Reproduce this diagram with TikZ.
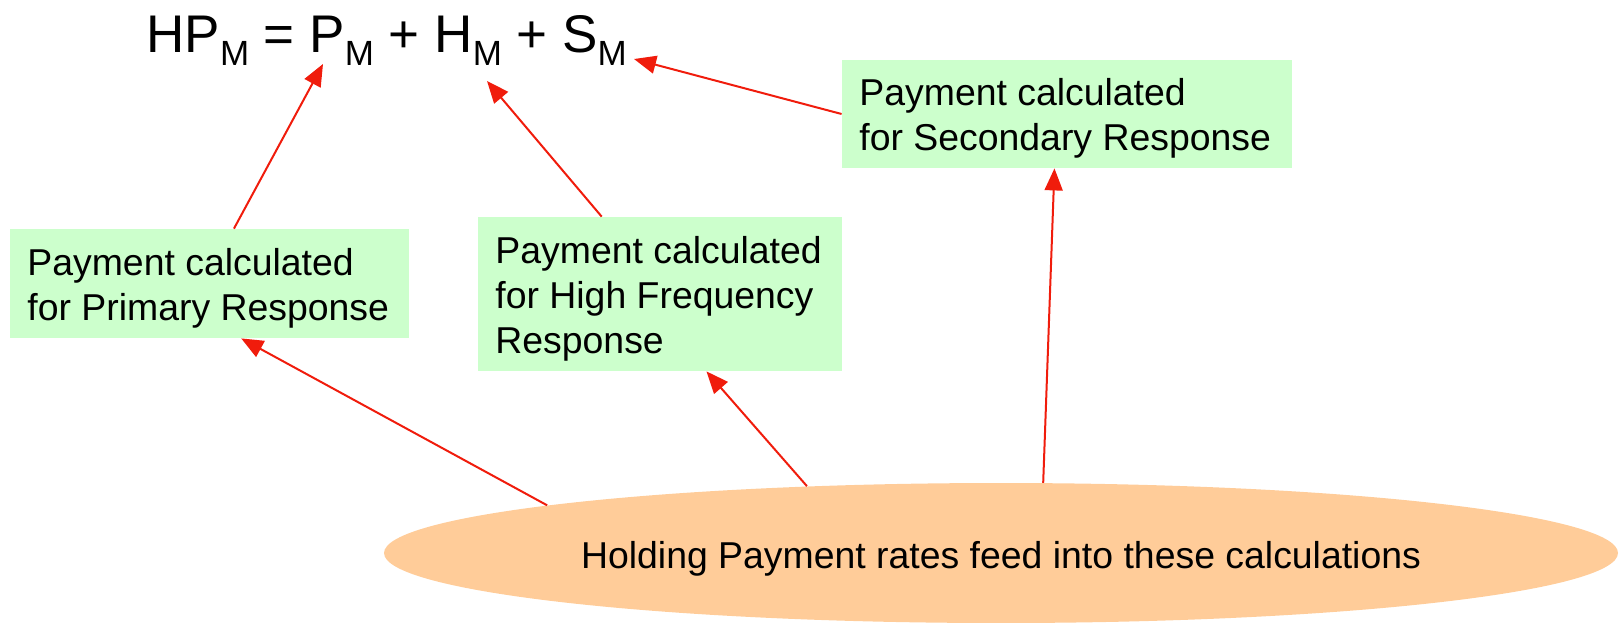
\documentclass[tikz,border=0pt]{standalone}
\usepackage{fontspec}
\setmainfont{Liberation Sans}
\usetikzlibrary{arrows.meta,shapes.geometric,calc}
\definecolor{boxgreen}{RGB}{204,255,204}
\definecolor{peach}{RGB}{255,204,153}
\definecolor{arrred}{RGB}{240,28,12}
\newcommand\mysub[1]{\raisebox{-6.5pt}{\fontsize{17.5pt}{20pt}\selectfont #1}}
\begin{document}
\begin{tikzpicture}[x=0.5pt,y=-0.5pt,
  gbox/.style={fill=boxgreen,draw=none,inner sep=0pt},
  txt/.style={inner sep=0pt,font=\fontsize{18.7pt}{22.5pt}\selectfont},
  conn/.style={draw=arrred,line width=1pt,-{Triangle[length=11pt,width=9pt]}}]
\useasboundingbox (0,0) rectangle (1621,622);
% formula
\node[inner sep=0pt,anchor=base west,font=\fontsize{26.5pt}{30pt}\selectfont] (eq) at (146,52)
  {HP\mysub{M} = P\mysub{M} + H\mysub{M} + S\mysub{M}};
\coordinate (pm) at (323,64);
\coordinate (hm) at (487,81);
\coordinate (sm) at (634,59);
% boxes
\node[gbox,minimum width=199.5pt,minimum height=54.5pt] (b1) at (209.5,283.5) {};
\node[gbox,minimum width=182pt,minimum height=77pt] (b2) at (660,294) {};
\node[gbox,minimum width=225pt,minimum height=54pt] (b3) at (1067,114) {};
\node[txt,anchor=base west] (t1) at (27,275)
  {\begin{tabular}[t]{@{}l@{}}Payment calculated\\for Primary Response\end{tabular}};
\node[txt,anchor=base west] (t2) at (495,263)
  {\begin{tabular}[t]{@{}l@{}}Payment calculated\\for High Frequency\\Response\end{tabular}};
\node[txt,anchor=base west] (t3) at (859,105)
  {\begin{tabular}[t]{@{}l@{}}Payment calculated\\for Secondary Response\end{tabular}};
% ellipse
\node[ellipse,fill=peach,draw=none,inner sep=0pt,minimum width=617pt,minimum height=70pt] (ell) at (1001,553) {};
\node[txt,anchor=base] (et) at (1001,568) {Holding Payment rates feed into these calculations};
% connectors
\draw[conn] (b1.66.7) -- (pm);
\draw[conn] (b2.127.9) -- (hm);
\draw[conn] (b3.west) -- (sm);
\draw[conn] (ell.174.2) -- (b1.-60);
\draw[conn] (ell.161.4) -- (b2.-59.7);
\draw[conn] (ell.59.6) -- (b3.-103.5);
\end{tikzpicture}
\end{document}
